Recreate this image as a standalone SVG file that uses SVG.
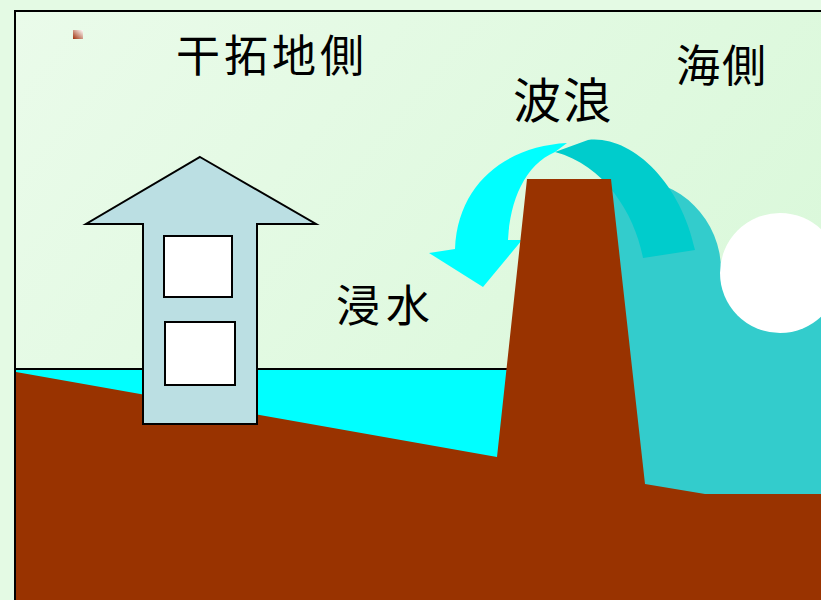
<svg xmlns="http://www.w3.org/2000/svg" width="821" height="600" viewBox="0 0 821 600">
  <defs>
    <linearGradient id="sky" x1="0" y1="0" x2="1" y2="0.6">
      <stop offset="0" stop-color="#EAFBEA"/>
      <stop offset="1" stop-color="#D9F8D9"/>
    </linearGradient>
    <linearGradient id="chip" x1="0" y1="1" x2="1" y2="0">
      <stop offset="0" stop-color="#A0300A"/>
      <stop offset="1" stop-color="#FFFFFF"/>
    </linearGradient>
    <style>
      .label { font-family: "Noto Sans CJK JP", "Noto Sans", sans-serif; fill: #000; }
      .edge { stroke: #000; stroke-width: 2; stroke-linejoin: miter; }
      .ground { fill: #993300; }
    </style>
  </defs>

  <!-- backdrop -->
  <rect x="0" y="0" width="821" height="600" fill="#E4FAE4"/>
  <rect x="15" y="11" width="820" height="600" fill="url(#sky)"/>
  <rect x="73" y="30" width="10" height="9" fill="url(#chip)"/>

  <!-- sea and breaking wave -->
  <g id="sea">
    <path d="M600,180 L630,179 A91,91 0 0 1 721,270 L780,273 L821,273 L821,494 L600,494 Z" fill="#33CCCC"/>
    <circle cx="780" cy="273" r="60" fill="#FFFFFF"/>
  </g>

  <!-- overtopping wave arrow -->
  <g id="wave-arrow">
    <path d="M588,140 C630,135 680,180 695,250 L643,258 C635,215 605,165 555,152 Z" fill="#00CCCC"/>
    <path d="M567,143 C510,146 458,180 455,249 L429,253 L483,287 L522,240 L508,240 C510,200 525,165 555,152 Z" fill="#00FFFF"/>
  </g>

  <!-- flooded land -->
  <g id="flood">
    <rect x="16" y="369" width="491" height="100" fill="#00FFFF"/>
    <line x1="16" y1="369" x2="507" y2="369" class="edge"/>
  </g>

  <!-- ground and dike -->
  <g id="ground">
    <path class="ground" d="M16,372 L497,457 L527,179 L611,179 L645,484 L705,494 L821,494 L821,600 L16,600 Z"/>
  </g>

  <!-- outer frame -->
  <rect x="15" y="11" width="820" height="600" fill="none" class="edge"/>

  <!-- building with upward arrow roof -->
  <g id="building">
    <path d="M200,157 L316,224 L257,224 L257,424 L143,424 L143,224 L86,224 Z" fill="#BBDFE3" class="edge"/>
    <rect x="164" y="236" width="68" height="61" fill="#FFFFFF" class="edge"/>
    <rect x="165" y="322" width="70" height="63" fill="#FFFFFF" class="edge"/>
  </g>

  <!-- labels -->
  <g id="labels">
    <text class="label" x="176" y="72" font-size="44" letter-spacing="4">干拓地側</text>
    <text class="label" x="676" y="82" font-size="44" letter-spacing="2">海側</text>
    <text class="label" x="513" y="118" font-size="48" letter-spacing="2">波浪</text>
    <text class="label" x="336" y="322" font-size="44" letter-spacing="6">浸水</text>
  </g>
</svg>
